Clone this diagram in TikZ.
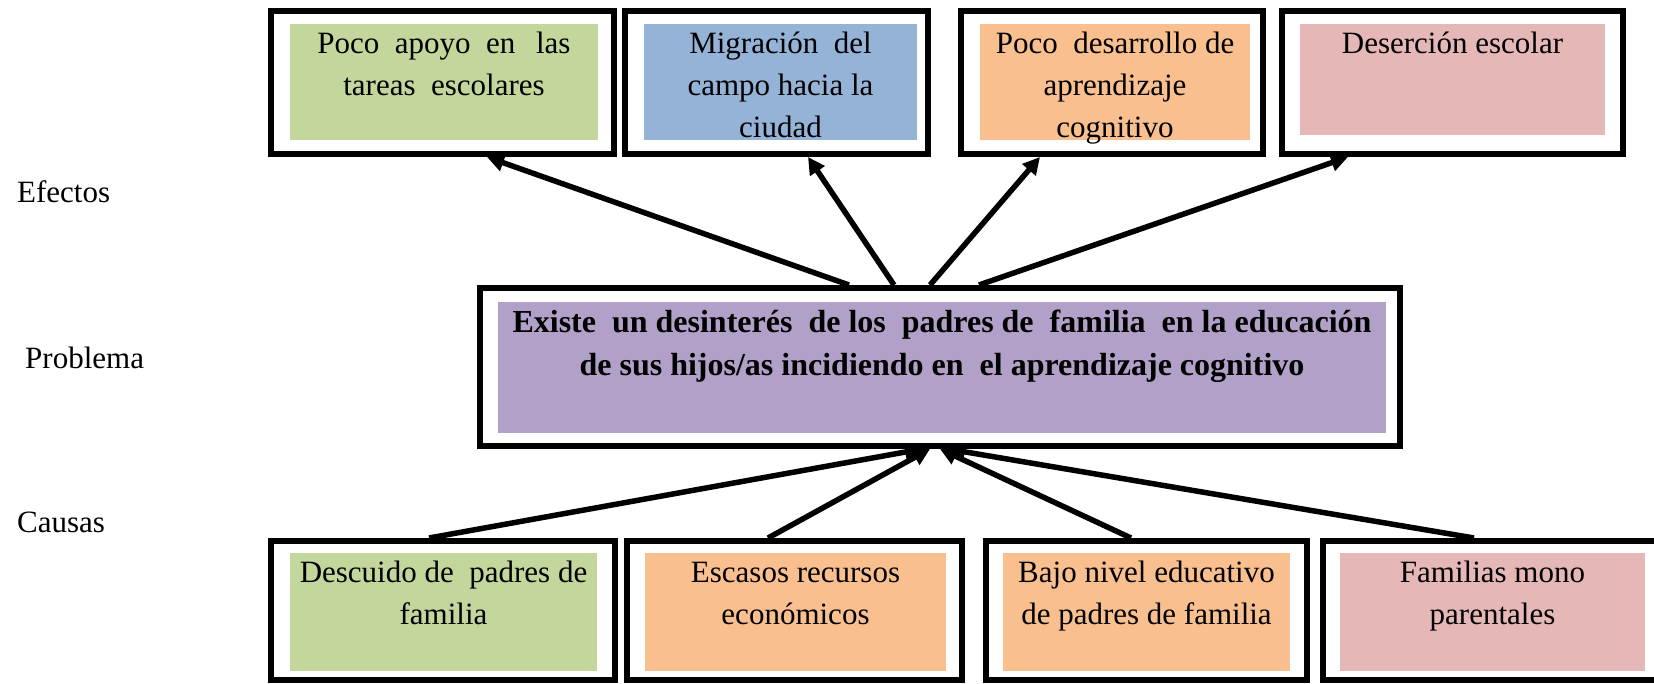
\documentclass[tikz,border=0pt]{standalone}
\usepackage{fontspec}
\setmainfont{Liberation Serif}
\usetikzlibrary{arrows.meta}
\definecolor{cgreen}{HTML}{C3D69B}
\definecolor{cblue}{HTML}{95B3D7}
\definecolor{corange}{HTML}{F9BF8F}
\definecolor{cpink}{HTML}{E6B7B7}
\definecolor{cpurple}{HTML}{B1A0C7}
\begin{document}
\begin{tikzpicture}[x=1pt,y=-1pt,
  frame/.style={draw=black,line width=6pt,fill=white,rectangle,inner sep=0pt},
  fillbox/.style={rectangle,inner sep=0pt,outer sep=0pt,draw=none},
  txt/.style={anchor=north,inner sep=0pt,outer sep=0pt,align=center,font=\fontsize{31}{42}\selectfont},
  lbl/.style={anchor=base west,inner sep=0pt,font=\fontsize{31}{42}\selectfont},
  arr/.style={line width=5.5pt,-{Triangle[length=17pt,width=17pt]}}]
\useasboundingbox (0,0) rectangle (1654,683);

% effect boxes
\node[frame,minimum width=343pt,minimum height=143pt] (e1) at (442.5,82.5) {};
\node[fillbox,fill=cgreen,minimum width=308pt,minimum height=116pt] (e1f) at (444,82) {};
\node[txt] (e1t) at (e1f.north) {\strut Poco\ \ apoyo\ \ en\ \ \,las\\\strut tareas\ \ escolares};

\node[frame,minimum width=303pt,minimum height=143pt] (e2) at (776.5,82.5) {};
\node[fillbox,fill=cblue,minimum width=273pt,minimum height=116pt] (e2f) at (780.5,82) {};
\node[txt] (e2t) at (e2f.north) {\strut Migración\ \ del\\\strut campo hacia la\\\strut ciudad};

\node[frame,minimum width=302pt,minimum height=143pt] (e3) at (1112,82.5) {};
\node[fillbox,fill=corange,minimum width=270pt,minimum height=116pt] (e3f) at (1115,82) {};
\node[txt] (e3t) at (e3f.north) {\strut Poco\ \ desarrollo de\\\strut aprendizaje\\\strut cognitivo};

\node[frame,minimum width=341pt,minimum height=143pt] (e4) at (1452.5,82.5) {};
\node[fillbox,fill=cpink,minimum width=305pt,minimum height=111pt] (e4f) at (1452.5,79.5) {};
\node[txt] (e4t) at (e4f.north) {\strut Deserción escolar};

% problem box
\node[frame,minimum width=920pt,minimum height=158pt] (m) at (940,367) {};
\node[fillbox,fill=cpurple,minimum width=888pt,minimum height=131pt] (mf) at (942,367.5) {};
\node[txt,font=\fontsize{32}{43}\selectfont\bfseries] (mt) at (mf.north) {\strut Existe\ \ un desinterés\ \ de los\ \ padres de\ \ familia\ \ en la educación\\\strut de sus hijos/as incidiendo en\ \ el aprendizaje cognitivo};

% cause boxes
\node[frame,minimum width=344pt,minimum height=139pt] (c1) at (443,610.5) {};
\node[fillbox,fill=cgreen,minimum width=307pt,minimum height=118pt] (c1f) at (443.5,612) {};
\node[txt] (c1t) at (c1f.north) {\strut Descuido de\ \ padres de\\\strut familia};

\node[frame,minimum width=335pt,minimum height=139pt] (c2) at (794.5,610.5) {};
\node[fillbox,fill=corange,minimum width=301pt,minimum height=118pt] (c2f) at (795.5,612) {};
\node[txt] (c2t) at (c2f.north) {\strut Escasos recursos\\\strut económicos};

\node[frame,minimum width=321pt,minimum height=139pt] (c3) at (1146.5,610.5) {};
\node[fillbox,fill=corange,minimum width=287pt,minimum height=118pt] (c3f) at (1146.5,612) {};
\node[txt] (c3t) at (c3f.north) {\strut Bajo nivel educativo\\\strut de padres de familia};

\node[frame,minimum width=337pt,minimum height=139pt] (c4) at (1491.5,610.5) {};
\node[fillbox,fill=cpink,minimum width=305pt,minimum height=118pt] (c4f) at (1492.5,612) {};
\node[txt] (c4t) at (c4f.north) {\strut Familias mono\\\strut parentales};

% side labels
\node[lbl] (lefe) at (17,202.5) {Efectos};
\node[lbl] (lpro) at (25,368) {Problema};
\node[lbl] (lcau) at (17,532) {Causas};

% effect arrows
\draw[arr] ([xshift=-91pt]m.north) -- ([xshift=44.5pt]e1.south);
\draw[arr] ([xshift=-46pt]m.north) -- ([xshift=31.5pt]e2.south);
\draw[arr] ([xshift=-10pt]m.north) -- ([xshift=-72pt]e3.south);
\draw[arr] ([xshift=39pt]m.north) -- ([xshift=-104.5pt]e4.south);

% cause arrows
\draw[arr] ([xshift=-14pt]c1.north) -- ([xshift=-18pt]m.south);
\draw[arr] ([xshift=-26.5pt]c2.north) -- ([xshift=-10pt]m.south);
\draw[arr] ([xshift=-15.5pt]c3.north) -- ([xshift=0pt]m.south);
\draw[arr] ([xshift=-17.5pt]c4.north) -- ([xshift=8pt]m.south);
\end{tikzpicture}
\end{document}
